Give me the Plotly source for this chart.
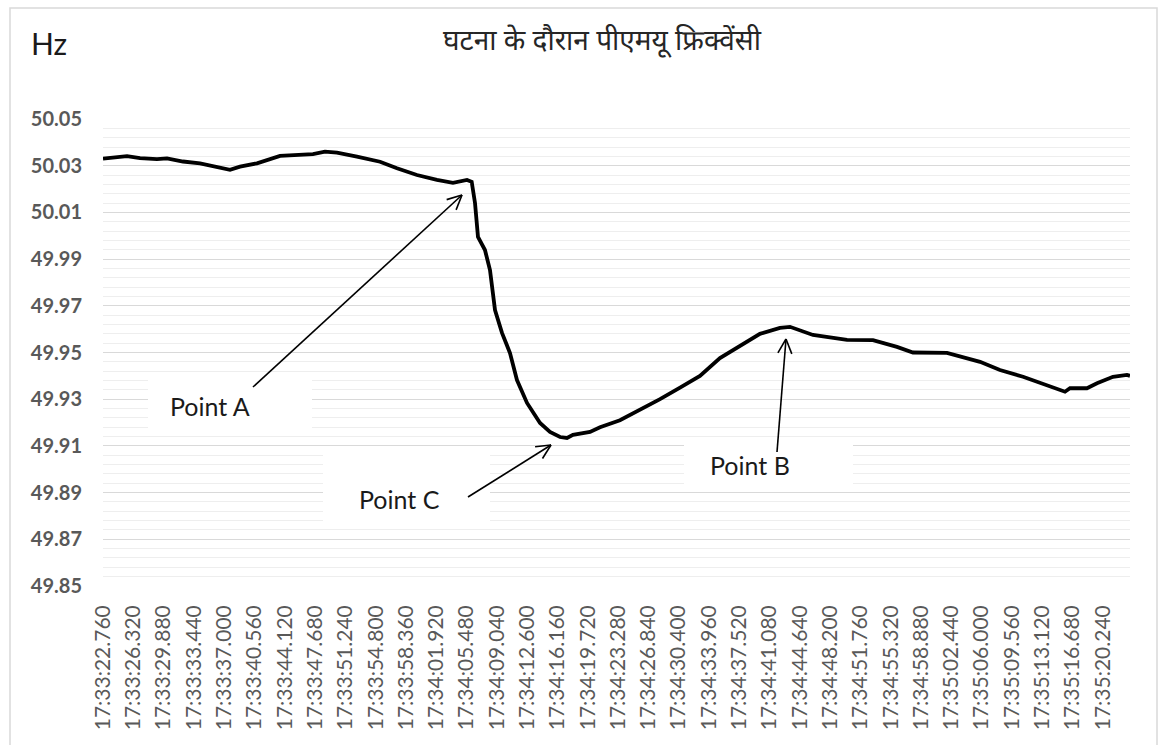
import math
import plotly.graph_objects as go

# ---------------- data ----------------
times = [
    "17:33:22.760", "17:33:24.400", "17:33:25.580", "17:33:27.110", "17:33:29.100",
    "17:33:30.280", "17:33:32.160", "17:33:34.160", "17:33:36.150", "17:33:37.680",
    "17:33:38.860", "17:33:40.850", "17:33:43.560", "17:33:45.550", "17:33:47.430",
    "17:33:48.840", "17:33:50.250", "17:33:52.600", "17:33:55.310", "17:33:57.300",
    "17:33:59.650", "17:34:02.000", "17:34:03.880", "17:34:05.530", "17:34:06.080",
    "17:34:06.470", "17:34:06.820", "17:34:07.640", "17:34:08.230", "17:34:08.820",
    "17:34:09.640", "17:34:10.580", "17:34:11.400", "17:34:12.580", "17:34:14.110",
    "17:34:15.280", "17:34:16.460", "17:34:17.280", "17:34:17.980", "17:34:19.980",
    "17:34:21.160", "17:34:23.500", "17:34:25.850", "17:34:28.210", "17:34:30.560",
    "17:34:32.900", "17:34:35.250", "17:34:37.600", "17:34:39.950", "17:34:42.300",
    "17:34:43.480", "17:34:46.180", "17:34:50.180", "17:34:53.230", "17:34:56.050",
    "17:34:57.930", "17:35:01.930", "17:35:05.810", "17:35:08.150", "17:35:10.860",
    "17:35:12.850", "17:35:14.850", "17:35:15.790", "17:35:16.380", "17:35:18.370",
    "17:35:19.550", "17:35:21.430", "17:35:23.070", "17:35:23.430",
]
freq_hz = [
    50.0330, 50.0338, 50.0341, 50.0332, 50.0328,
    50.0331, 50.0318, 50.0310, 50.0292, 50.0282,
    50.0296, 50.0310, 50.0342, 50.0346, 50.0350,
    50.0360, 50.0356, 50.0339, 50.0317, 50.0289,
    50.0260, 50.0239, 50.0227, 50.0239, 50.0231,
    50.0140, 49.9995, 49.9939, 49.9853, 49.9682,
    49.9584, 49.9498, 49.9382, 49.9284, 49.9198,
    49.9160, 49.9138, 49.9134, 49.9147, 49.9160,
    49.9180, 49.9210, 49.9254, 49.9300, 49.9350,
    49.9400, 49.9476, 49.9530, 49.9580, 49.9605,
    49.9610, 49.9575, 49.9554, 49.9553, 49.9524,
    49.9500, 49.9498, 49.9460, 49.9425, 49.9396,
    49.9370, 49.9347, 49.9332, 49.9347, 49.9347,
    49.9368, 49.9396, 49.9404, 49.9400,
]
tick_labels = [
    "17:33:22.760", "17:33:26.320", "17:33:29.880", "17:33:33.440", "17:33:37.000",
    "17:33:40.560", "17:33:44.120", "17:33:47.680", "17:33:51.240", "17:33:54.800",
    "17:33:58.360", "17:34:01.920", "17:34:05.480", "17:34:09.040", "17:34:12.600",
    "17:34:16.160", "17:34:19.720", "17:34:23.280", "17:34:26.840", "17:34:30.400",
    "17:34:33.960", "17:34:37.520", "17:34:41.080", "17:34:44.640", "17:34:48.200",
    "17:34:51.760", "17:34:55.320", "17:34:58.880", "17:35:02.440", "17:35:06.000",
    "17:35:09.560", "17:35:13.120", "17:35:16.680", "17:35:20.240",
]
y_ticks = [49.85, 49.87, 49.89, 49.91, 49.93, 49.95, 49.97, 49.99, 50.01, 50.03, 50.05]

title_text = "घटना के दौरान पीएमयू फ्रिक्वेंसी"
unit_text = "Hz"
point_labels = ["Point A", "Point C", "Point B"]


def to_sec(s):
    h, m, sec = s.split(":")
    return int(h) * 3600 + int(m) * 60 + float(sec)


x_vals = [to_sec(t) for t in times]
tick_vals = [to_sec(t) for t in tick_labels]

# ---------------- layout geometry (pixels) ----------------
W, H = 1162, 745
L, R, T, B = 103, 32, 119, 159
PW, PH = W - L - R, H - T - B


def px(x):
    return (x - L) / PW


def py(y):
    return (H - B - y) / PH


GRAY = "#595959"

fig = go.Figure()
fig.add_trace(go.Scatter(
    x=x_vals, y=freq_hz, mode="lines",
    line=dict(color="black", width=3.8),
    hoverinfo="skip", showlegend=False,
))

shapes = []
# chart border
shapes.append(dict(type="rect", xref="paper", yref="paper",
                   x0=px(10), x1=px(1157), y0=py(760), y1=py(8),
                   line=dict(color="#d9d9d9", width=1.5), fillcolor="rgba(0,0,0,0)",
                   layer="below"))

# white label boxes (cover gridlines)
boxes = [(148, 379, 312, 432), (323, 455, 490, 527), (684, 437, 853, 488)]
for (x0, y0, x1, y1) in boxes:
    shapes.append(dict(type="rect", xref="paper", yref="paper",
                       x0=px(x0), x1=px(x1), y0=py(y1), y1=py(y0),
                       line=dict(width=0), fillcolor="white", layer="above"))

# arrows (start -> tip), open V heads
arrows = [((253, 387), (462, 195)), ((468, 497), (551, 445)), ((777, 452), (786, 339))]
for (sx, sy), (tx, ty) in arrows:
    shapes.append(dict(type="line", xref="paper", yref="paper",
                       x0=px(sx), y0=py(sy), x1=px(tx), y1=py(ty),
                       line=dict(color="black", width=1.6), layer="above"))
    ang = math.atan2(ty - sy, tx - sx)
    hl = 16
    for d in (0.45, -0.45):
        hx = tx - hl * math.cos(ang + d)
        hy = ty - hl * math.sin(ang + d)
        shapes.append(dict(type="line", xref="paper", yref="paper",
                           x0=px(hx), y0=py(hy), x1=px(tx), y1=py(ty),
                           line=dict(color="black", width=1.6), layer="above"))

label_font = dict(family="Lato, sans-serif", size=25, color="#1a1a1a")
annotations = [
    dict(text=title_text, xref="paper", yref="paper", x=px(602), y=py(42),
         showarrow=False, xanchor="center", yanchor="middle",
         font=dict(family="Noto Sans Devanagari, Noto Sans, sans-serif", size=28, color="#262626")),
    dict(text=unit_text, xref="paper", yref="paper", x=px(29), y=py(43),
         showarrow=False, xanchor="left", yanchor="middle",
         font=dict(family="Lato, sans-serif", size=30, color="#1a1a1a")),
    dict(text=point_labels[0], xref="paper", yref="paper", x=px(210), y=py(406),
         showarrow=False, xanchor="center", yanchor="middle", font=label_font),
    dict(text=point_labels[1], xref="paper", yref="paper", x=px(399), y=py(499),
         showarrow=False, xanchor="center", yanchor="middle", font=label_font),
    dict(text=point_labels[2], xref="paper", yref="paper", x=px(750), y=py(465),
         showarrow=False, xanchor="center", yanchor="middle", font=label_font),
]

fig.update_layout(
    width=W, height=H,
    margin=dict(l=L, r=R, t=T, b=B, pad=0),
    paper_bgcolor="white", plot_bgcolor="white",
    shapes=shapes, annotations=annotations,
    showlegend=False,
    xaxis=dict(
        range=[x_vals[0], x_vals[-1]],
        tickmode="array", tickvals=tick_vals, ticktext=tick_labels,
        tickangle=-90, showgrid=False, zeroline=False, showline=False,
        ticks="", ticklabelstandoff=14,
        tickfont=dict(family="Lato, sans-serif", size=21, color=GRAY),
    ),
    yaxis=dict(
        range=[49.85, 50.05],
        tickmode="array", tickvals=y_ticks, ticktext=[f"{v:.2f}" for v in y_ticks],
        showgrid=True, gridcolor="#d9d9d9", gridwidth=1,
        zeroline=False, showline=False, ticks="", ticklabelstandoff=20,
        tickfont=dict(family="Lato, sans-serif", size=20, color=GRAY, weight="bold"),
        minor=dict(tickmode="linear", tick0=49.85, dtick=0.004, showgrid=True,
                   gridcolor="#eeeeee", gridwidth=1),
    ),
)

fig.write_html(
    "out.html",
    config={"displayModeBar": False},
    post_script="document.body.style.margin='0';document.body.style.overflow='hidden';",
)
